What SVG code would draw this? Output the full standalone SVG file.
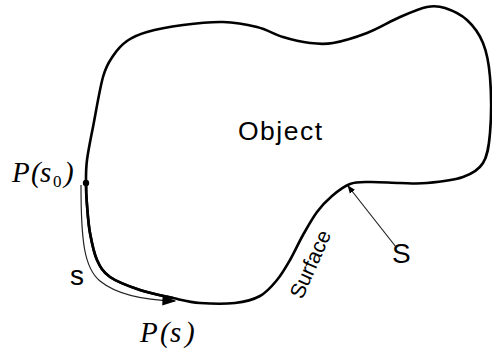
<svg xmlns="http://www.w3.org/2000/svg" width="492" height="349" viewBox="0 0 492 349">
<defs>
<style>
.outline{fill:none;stroke:#000;stroke-width:2.6;stroke-linejoin:round;stroke-linecap:round}
.thin{fill:none;stroke:#222;stroke-width:1.2}
.sans{font-family:"Liberation Sans",Arial,sans-serif;fill:#000}
.math{font-family:"Liberation Serif","Times New Roman",serif;font-style:italic;fill:#000}
</style>
<marker id="ah" viewBox="0 0 10 10" refX="9" refY="5" markerWidth="8" markerHeight="8" markerUnits="userSpaceOnUse" orient="auto">
<path d="M0,1 L10,5 L0,9 Z" fill="#000"/>
</marker>
<marker id="ah2" viewBox="0 0 10 10" refX="9" refY="5" markerWidth="14" markerHeight="14" markerUnits="userSpaceOnUse" orient="auto">
<path d="M0,1.5 L10,5 L0,8.5 Z" fill="#000"/>
</marker>
</defs>
<rect width="492" height="349" fill="#fff"/>
<g id="object">
<path class="outline" d="M86,183 C86,175.5 85.8,169.3 87,160 S90.3,140.8 93,127 S99.7,88.8 103,77 S109,62 113,56 S121.3,45 127,41 S137.7,34.7 147,32 S170.3,26.7 183,25 S210.7,21.7 223,22 S247,24.5 257,27 S274.2,34.3 283,37 S301.7,42 310,43 S323.5,44.7 333,43 S355.8,37.3 367,33 S390,21.3 400,17 S419.5,8.5 427,7 S438.3,5.8 445,8 S460.7,14.2 467,20 S479.2,33.5 483,43 S488.8,62 490,77 S491.2,118.7 490,133 S487.5,155.7 483,163 S472.3,173.7 463,177 S437.5,182 427,183 S409.5,183.2 400,183 S378.3,181.8 370,182 S356.3,181.7 350,184 S337.5,191.3 332,196 S321.8,205.5 317,212 S307.5,227 303,235 S294.3,252.5 290,260 S282,274 277,280 S267,292.2 260,296 S245,301.8 235,303 S210.3,303.8 200,303 S183,300.2 173,298 S150.5,293.5 140,290 S117.2,282 110,277 S100.3,267.3 97,260 S91.7,242.2 90,233 S87.7,213.3 87,205 S86,190.5 86,183 Z"/>
<path class="outline" stroke-width="3.2" d="M86,183 C86,190.5 86.3,196.7 87,205 S88.3,223.8 90,233 S93.7,252.7 97,260 S102.8,272 110,277 S129.5,286.5 140,290 S162.5,295.8 173,298"/>
<text class="sans" x="238" y="140" font-size="26.5" textLength="84" lengthAdjust="spacing">Object</text>
</g>
<g id="surface-label">
<text class="sans" font-size="21" text-anchor="middle" dominant-baseline="central" transform="translate(310,264) rotate(-66)">Surface</text>
</g>
<g id="P0">
<circle cx="86" cy="183" r="3.2" fill="#000"/>
<text class="math" y="182" font-size="29"><tspan x="12">P</tspan><tspan x="31">(</tspan><tspan x="40">s</tspan><tspan x="53" y="187" font-size="17" font-style="normal">0</tspan><tspan x="64" y="182">)</tspan></text>
</g>
<g id="Ps">
<text class="math" y="342" font-size="29"><tspan x="140">P</tspan><tspan x="160">(</tspan><tspan x="170">s</tspan><tspan x="185">)</tspan></text>
</g>
<g id="s-label">
<text class="sans" x="70" y="285" font-size="28">s</text>
</g>
<g id="S-label">
<text class="sans" x="392" y="263" font-size="28">S</text>
</g>
<g id="connectors">
<path class="thin" d="M81,185 C81,240 84,268 100,281 S140,300 175,301" marker-end="url(#ah2)"/>
<line class="thin" x1="396" y1="247" x2="348" y2="186" stroke-width="1.1" marker-end="url(#ah)"/>
</g>
</svg>
